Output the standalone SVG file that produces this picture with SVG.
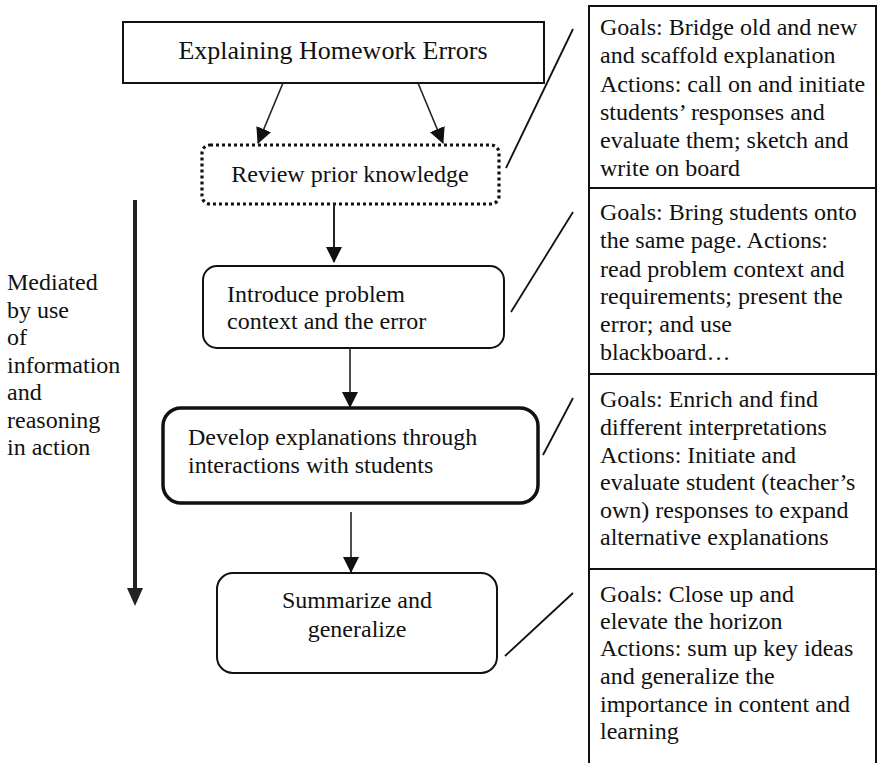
<svg xmlns="http://www.w3.org/2000/svg" width="877" height="763" viewBox="0 0 877 763">
<style>
text{font-family:"Liberation Serif","Times New Roman",serif;font-size:24px;fill:#111}
.box{fill:#fff;stroke:#111;stroke-width:2}
.conn{stroke:#222;stroke-width:1.6;fill:none}
.slant{stroke:#111;stroke-width:1.8;fill:none}
</style>
<defs>
<marker id="ah" markerWidth="16" markerHeight="16" viewBox="0 0 16 16" refX="15" refY="8" orient="auto" markerUnits="userSpaceOnUse">
<path d="M0,0 L16,8 L0,16 Z" fill="#111"/>
</marker>
</defs>
<rect width="877" height="763" fill="#fff"/>

<g id="title">
<rect class="box" x="123" y="22" width="421" height="61"/>
<text x="333" y="59" text-anchor="middle" style="font-size:26px">Explaining Homework Errors</text>
</g>

<g id="review">
<rect x="202" y="145" width="297" height="59" rx="8" fill="#fff" stroke="#111" stroke-width="3.2" stroke-dasharray="3 3"/>
<text x="350" y="182" text-anchor="middle">Review prior knowledge</text>
</g>

<g id="introduce">
<rect class="box" x="203" y="266" width="301" height="82" rx="14"/>
<text x="227" y="302">Introduce problem</text>
<text x="227" y="329">context and the error</text>
</g>

<g id="develop">
<rect x="163" y="408" width="375" height="95" rx="18" fill="#fff" stroke="#111" stroke-width="3.5"/>
<text x="188" y="445">Develop explanations through</text>
<text x="188" y="473">interactions with students</text>
</g>

<g id="summarize">
<rect class="box" x="217" y="573" width="280" height="100" rx="16"/>
<text x="357" y="608" text-anchor="middle">Summarize and</text>
<text x="357" y="637" text-anchor="middle">generalize</text>
</g>

<g id="mediated">
<text x="7" y="290">Mediated</text>
<text x="7" y="318">by use</text>
<text x="7" y="345">of</text>
<text x="7" y="373">information</text>
<text x="7" y="400">and</text>
<text x="7" y="428">reasoning</text>
<text x="7" y="455">in action</text>
</g>

<g id="annotations">
<rect x="589" y="6" width="287" height="770" fill="#fff" stroke="#111" stroke-width="2"/>
<line x1="589" y1="188" x2="876" y2="188" stroke="#111" stroke-width="2"/>
<line x1="589" y1="374" x2="876" y2="374" stroke="#111" stroke-width="2"/>
<line x1="589" y1="569" x2="876" y2="569" stroke="#111" stroke-width="2"/>
<g id="note1">
<text x="600" y="35">Goals: Bridge old and new</text>
<text x="600" y="63">and scaffold explanation</text>
<text x="600" y="92">Actions: call on and initiate</text>
<text x="600" y="120">students’ responses and</text>
<text x="600" y="148">evaluate them; sketch and</text>
<text x="600" y="176">write on board</text>
</g>
<g id="note2">
<text x="600" y="220">Goals: Bring students onto</text>
<text x="600" y="248">the same page. Actions:</text>
<text x="600" y="277">read problem context and</text>
<text x="600" y="304">requirements; present the</text>
<text x="600" y="332">error; and use</text>
<text x="600" y="360">blackboard…</text>
</g>
<g id="note3">
<text x="600" y="407">Goals: Enrich and find</text>
<text x="600" y="435">different interpretations</text>
<text x="600" y="463">Actions: Initiate and</text>
<text x="600" y="490">evaluate student (teacher’s</text>
<text x="600" y="518">own) responses to expand</text>
<text x="600" y="545">alternative explanations</text>
</g>
<g id="note4">
<text x="600" y="602">Goals: Close up and</text>
<text x="600" y="629">elevate the horizon</text>
<text x="600" y="656">Actions: sum up key ideas</text>
<text x="600" y="684">and generalize the</text>
<text x="600" y="712">importance in content and</text>
<text x="600" y="739">learning</text>
</g>
</g>

<g id="connectors">
<line class="conn" x1="283" y1="83" x2="258" y2="143" marker-end="url(#ah)"/>
<line class="conn" x1="418" y1="83" x2="443" y2="143" marker-end="url(#ah)"/>
<line class="conn" x1="334" y1="204" x2="334" y2="262" marker-end="url(#ah)" style="stroke-width:2"/>
<line class="conn" x1="350" y1="348" x2="350" y2="407" marker-end="url(#ah)"/>
<line class="conn" x1="351" y1="512" x2="351" y2="572" marker-end="url(#ah)"/>
<line x1="135" y1="200" x2="135" y2="590" stroke="#222" stroke-width="4"/>
<polygon points="127,588 143,588 135,606" fill="#222"/>
<line class="slant" x1="506" y1="168" x2="573" y2="29"/>
<line class="slant" x1="511" y1="312" x2="573" y2="212"/>
<line class="slant" x1="543" y1="455" x2="573" y2="398"/>
<line class="slant" x1="505" y1="656" x2="573" y2="593"/>
</g>
</svg>
